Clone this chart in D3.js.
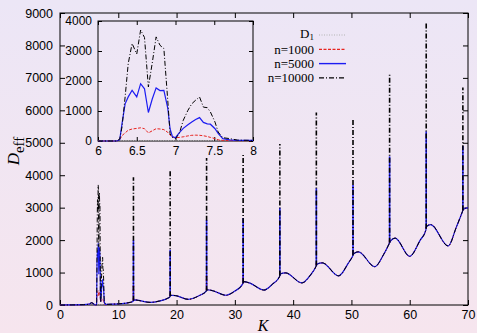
<!DOCTYPE html>
<html>
<head>
<meta charset="utf-8">
<script src="https://cdn.jsdelivr.net/npm/d3@7"></script>
<style>
  body { margin: 0; }
  svg { display: block; }
  .tick text { font-family: "Liberation Sans", Arial, sans-serif; font-size: 12.5px; fill: #000; }
  .inset .tick text { font-size: 12px; }
</style>
</head>
<body>
<figure id="chart" style="margin:0"></figure>
<script>
// smooth background curve shared by all n (K outside 6..8)
const baseK = [0, 2, 4, 5, 5.4, 5.8,
  8, 9, 10, 11, 12, 12.5, 12.7, 13.5, 15.5, 17, 18.5, 18.85, 19.0, 19.8, 22,
  24, 25.05, 25.25, 26.2, 28.5, 30, 31.35, 31.5, 32.5, 35, 36.5, 37.65, 37.8, 38.7, 41.5,
  43, 43.9, 44.1, 45, 47.8, 49.5, 50.2, 50.4, 51.2, 54, 55.5, 56.45, 56.65, 57.5, 60,
  61.8, 62.75, 62.9, 63.6, 66.6, 68, 69.05, 69.2, 70];
const baseD = [0, 3, 10, 25, 70, 30,
  20, 25, 35, 50, 80, 110, 160, 140, 80, 120, 210, 250, 300, 290, 175,
  300, 420, 470, 440, 300, 430, 650, 720, 680, 460, 650, 870, 960, 990, 680,
  930, 1180, 1260, 1300, 900, 1300, 1500, 1580, 1640, 1180, 1550, 1880, 1960, 2060, 1500,
  2000, 2300, 2420, 2480, 1820, 2400, 2880, 2950, 3000];

// first resonance, K = 6..8 (inset)
const insetK = [6.0, 6.24, 6.28, 6.31, 6.35, 6.39, 6.44, 6.5, 6.55, 6.6, 6.65, 6.7, 6.75, 6.8, 6.85,
  6.9, 6.93, 6.96, 7.0, 7.05, 7.1, 7.16, 7.21, 7.26, 7.31, 7.36, 7.41, 7.45, 7.51, 7.55, 7.61, 7.7, 7.8, 8.0];
const insetD1 = [10, 12, 14, 15, 16, 16, 17, 17, 17, 17, 16, 16, 16, 16, 16,
  15, 15, 15, 15, 15, 15, 16, 16, 16, 16, 16, 16, 16, 17, 17, 18, 18, 19, 20];
const insetN1000 = [0, 0, 40, 180, 270, 360, 400, 420, 440, 410, 270, 340, 410, 400, 380,
  290, 200, 130, 110, 120, 140, 170, 190, 195, 190, 175, 150, 120, 80, 40, 20, 15, 10, 10];
const insetN5000 = [0, 0, 40, 580, 1240, 1470, 1690, 1470, 1910, 1740, 950, 1400, 1770, 1680, 1690,
  1100, 400, 150, 110, 280, 420, 540, 630, 720, 780, 620, 570, 560, 410, 250, 80, 40, 20, 20];
const insetN10000 = [0, 0, 60, 470, 1470, 2580, 3250, 2900, 3700, 3450, 1800, 2600, 3470, 3190, 3080,
  1360, 240, 120, 80, 260, 690, 1020, 1240, 1360, 1470, 1130, 1110, 970, 630, 300, 110, 80, 30, 20];

// narrow resonances at K = 2*pi*m
const spikeK = [12.6, 18.9, 25.15, 31.42, 37.72, 43.98, 50.27, 56.55, 62.83, 69.12];
const spikeBase = [130, 270, 440, 680, 910, 1220, 1540, 1920, 2360, 2920];
const spikeN1000 = [600, 450, 900, 900, 1000, 1300, 1600, 2000, 2400, 2950];
const spikeN5000 = [2000, 1700, 2620, 2680, 3000, 3600, 3700, 4580, 5350, 4900];
const spikeN10000 = [3940, 4130, 4530, 4680, 4960, 5930, 5740, 7100, 8690, 6700];

const xTicks = [0, 10, 20, 30, 40, 50, 60, 70];
const yTicks = [0, 1000, 2000, 3000, 4000, 5000, 6000, 7000, 8000, 9000];
const insetXTicks = [6, 6.5, 7, 7.5, 8];
const insetYTicks = [0, 1000, 2000, 3000, 4000];
const legendLabels = ["D1", "n=1000", "n=5000", "n=10000"];

const W = 477, H = 333;
const styles = [
  { color: "#b4b4b4", dash: "1,1.5", w: 1 },
  { color: "#e8231f", dash: "3,1.5", w: 1 },
  { color: "#1c1cf2", dash: null, w: 1.2 },
  { color: "#000000", dash: "5,2,1,2", w: 1 }
];

const svg = d3.select("figure#chart").append("svg")
  .attr("width", W).attr("height", H);

const grad = svg.append("defs").append("linearGradient")
  .attr("id", "bg").attr("x1", 0).attr("y1", 0).attr("x2", 0).attr("y2", 1);
grad.append("stop").attr("offset", "0%").attr("stop-color", "#ece6f6");
grad.append("stop").attr("offset", "100%").attr("stop-color", "#f6e5ee");
svg.append("rect").attr("width", W).attr("height", H).attr("fill", "url(#bg)");

// main plot
const x = d3.scaleLinear().domain([0, 70]).range([60, 468]);
const y = d3.scaleLinear().domain([0, 9000]).range([305, 13]);
const fmt = d => String(d);

function drawFrame(g, xs, ys, xt, yt, tl, padX, padY) {
  const [x0, x1] = xs.range(), [y0, y1] = ys.range();
  g.append("g").attr("transform", "translate(0," + y0 + ")")
    .call(d3.axisBottom(xs).tickValues(xt).tickSize(-tl).tickPadding(padX).tickFormat(fmt))
    .call(a => a.select(".domain").remove());
  g.append("g").attr("transform", "translate(0," + y1 + ")")
    .call(d3.axisTop(xs).tickValues(xt).tickSize(-tl).tickFormat(""))
    .call(a => a.select(".domain").remove());
  g.append("g").attr("transform", "translate(" + x0 + ",0)")
    .call(d3.axisLeft(ys).tickValues(yt).tickSize(-tl).tickPadding(padY).tickFormat(fmt))
    .call(a => a.select(".domain").remove());
  g.append("g").attr("transform", "translate(" + x1 + ",0)")
    .call(d3.axisRight(ys).tickValues(yt).tickSize(-tl).tickFormat(""))
    .call(a => a.select(".domain").remove());
  g.append("rect").attr("x", x0).attr("y", y1)
    .attr("width", x1 - x0).attr("height", y0 - y1)
    .attr("fill", "none").attr("stroke", "#000").attr("stroke-width", 1);
}

const main = svg.append("g");
drawFrame(main, x, y, xTicks, yTicks, 5, 5, 7);

function mainSeries(inset) {
  const before = baseK.map((k, i) => [k, baseD[i]]).filter(p => p[0] < 6);
  const after = baseK.map((k, i) => [k, baseD[i]]).filter(p => p[0] > 8);
  return before.concat(insetK.map((k, i) => [k, inset[i]]), after);
}

const mainLine = d3.line().x(d => x(d[0])).y(d => y(d[1])).curve(d3.curveMonotoneX);
const straight = d3.line().x(d => x(d[0])).y(d => y(d[1]));

const insets = [insetD1, insetN1000, insetN5000, insetN10000];
const spikes = [null, spikeN1000, spikeN5000, spikeN10000];

insets.forEach((arr, s) => {
  const st = styles[s];
  main.append("path")
    .attr("d", mainLine(mainSeries(arr)))
    .attr("fill", "none").attr("stroke", st.color)
    .attr("stroke-width", st.w).attr("stroke-dasharray", st.dash);
  if (spikes[s]) {
    spikeK.forEach((k, i) => {
      main.append("path")
        .attr("d", straight([[k, spikeBase[i]], [k, spikes[s][i]]]))
        .attr("fill", "none").attr("stroke", st.color)
        .attr("stroke-width", 1.6).attr("stroke-dasharray", st.dash);
    });
  }
});

// inset
const xi = d3.scaleLinear().domain([6, 8]).range([98, 253]);
const yi = d3.scaleLinear().domain([0, 4000]).range([141, 21]);
const inset = svg.append("g").attr("class", "inset");
drawFrame(inset, xi, yi, insetXTicks, insetYTicks, 4, 5, 6);

const insetLine = d3.line().x(d => xi(d[0])).y(d => yi(d[1]));
insets.forEach((arr, s) => {
  const st = styles[s];
  inset.append("path")
    .attr("d", insetLine(insetK.map((k, i) => [k, arr[i]])))
    .attr("fill", "none").attr("stroke", st.color)
    .attr("stroke-width", st.w).attr("stroke-dasharray", st.dash);
});

// legend
const legend = svg.append("g")
  .style("font-family", "'Liberation Serif', 'Times New Roman', serif")
  .style("font-size", "13px");
legendLabels.forEach((lab, i) => {
  const ly = 35 + i * 14.3;
  const t = legend.append("text").attr("x", 314).attr("y", ly + 4.5).attr("text-anchor", "end");
  if (lab === "D1") {
    t.attr("y", ly + 3);
    t.append("tspan").text("D");
    t.append("tspan").attr("font-size", "9px").attr("dy", 2).text("1");
  } else {
    t.text(lab);
  }
  legend.append("line").attr("x1", 319).attr("x2", 346).attr("y1", ly).attr("y2", ly)
    .attr("stroke", styles[i].color).attr("stroke-width", styles[i].w + 0.2)
    .attr("stroke-dasharray", styles[i].dash);
});

// axis titles
svg.append("text")
  .attr("x", 263).attr("y", 331).attr("text-anchor", "middle")
  .style("font-family", "'Liberation Serif', serif").style("font-style", "italic")
  .style("font-size", "16px").text("K");

const yl = svg.append("text")
  .attr("transform", "translate(19,151) rotate(-90)").attr("text-anchor", "middle")
  .style("font-family", "'Liberation Serif', serif").style("font-size", "17px");
yl.append("tspan").style("font-style", "italic").text("D");
yl.append("tspan").attr("dy", 5).style("font-size", "15px").text("eff");
</script>
</body>
</html>
